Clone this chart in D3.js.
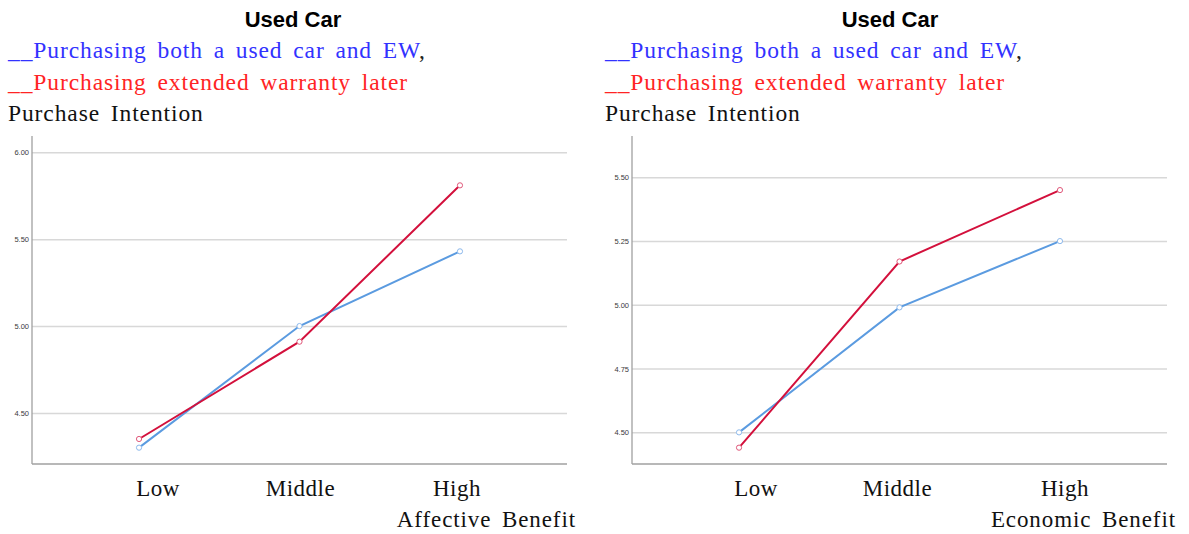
<!DOCTYPE html>
<html>
<head>
<meta charset="utf-8">
<script src="https://cdn.jsdelivr.net/npm/d3@7"></script>
<style>
  body { margin: 0; background: #fff; }
  .serif { font-family: "Liberation Serif", "DejaVu Serif", serif; }
</style>
</head>
<body>
<svg></svg>
<script>
const w = 1189
const h = 534

// data
const categories = ['Low', 'Middle', 'High']
const affectiveBoth = [4.30, 5.00, 5.43]
const affectiveLater = [4.35, 4.91, 5.81]
const economicBoth = [4.50, 4.99, 5.25]
const economicLater = [4.44, 5.17, 5.45]
const affectiveTicks = [4.50, 5.00, 5.50, 6.00]
const economicTicks = [4.50, 4.75, 5.00, 5.25, 5.50]

const title = 'Used Car'
const legendBoth = '__Purchasing both a used car and EW'
const legendLater = '__Purchasing extended warranty later'
const yTitle = 'Purchase Intention'

const svg = d3.select('svg')
  .attr('width', w)
  .attr('height', h)

const plotTop = 136
const plotBottom = 464
const plotWidth = 535
const blueLine = '#5b9be0'
const redLine = '#d3103c'

const panels = [
  {left: 0, axisX: 32, domain: [4.206, 6.094], ticks: affectiveTicks,
   both: affectiveBoth, later: affectiveLater, xTitle: 'Affective Benefit',
   nudge: [19, 1, -3]},
  {left: 597, axisX: 632, domain: [4.376, 5.662], ticks: economicTicks,
   both: economicBoth, later: economicLater, xTitle: 'Economic Benefit',
   nudge: [17, -2, 5]}
]

// serif text in the look of the original
const serifText = (sel, size) => sel
  .attr('class', 'serif')
  .attr('font-size', size)
  .attr('word-spacing', 4)
  .attr('letter-spacing', 0.9)

const drawPanel = p => {
  // header
  svg.append('text')
    .attr('x', p.left + 293)
    .attr('y', 26.5)
    .attr('text-anchor', 'middle')
    .attr('font-family', 'Liberation Sans, Arial, sans-serif')
    .attr('font-weight', 'bold')
    .attr('font-size', 22)
    .attr('fill', '#000')
    .text(title)

  const leg = svg.append('text')
    .attr('x', p.left + 8)
    .attr('y', 58)
    .call(serifText, 23.5)
  leg.append('tspan').attr('fill', '#3232ff').text(legendBoth)
  leg.append('tspan').attr('fill', '#222').text(',')

  svg.append('text')
    .attr('x', p.left + 8)
    .attr('y', 90)
    .call(serifText, 23.5)
    .attr('fill', '#ff2424')
    .text(legendLater)

  svg.append('text')
    .attr('x', p.left + 8)
    .attr('y', 120.5)
    .call(serifText, 23.5)
    .attr('fill', '#111')
    .text(yTitle)

  const g = svg.append('g')
    .attr('transform', `translate(${p.axisX}, 0)`)

  const xScale = d3.scalePoint()
    .domain(categories)
    .range([0, plotWidth])
    .padding(0.667)

  const yScale = d3.scaleLinear()
    .domain(p.domain)
    .range([plotBottom, plotTop])

  const yAxis = d3.axisLeft(yScale)
    .tickValues(p.ticks)
    .tickFormat(d3.format('.2f'))
    .tickSize(-plotWidth)

  const yAxisG = g.append('g').call(yAxis)
  yAxisG.select('.domain').remove()
  yAxisG.selectAll('line')
    .attr('stroke', '#d8d8d8')
    .attr('stroke-width', 1.5)
  yAxisG.selectAll('text')
    .attr('font-family', 'Liberation Sans, Arial, sans-serif')
    .attr('font-size', 7.5)
    .attr('fill', '#3a3a3a')

  // axis frame
  g.append('line')
    .attr('x1', 0).attr('x2', 0)
    .attr('y1', plotTop).attr('y2', plotBottom)
    .attr('stroke', '#a0a0a0')
    .attr('stroke-width', 1.3)
  g.append('line')
    .attr('x1', 0).attr('x2', plotWidth)
    .attr('y1', plotBottom).attr('y2', plotBottom)
    .attr('stroke', '#a0a0a0')
    .attr('stroke-width', 1.3)

  // category labels
  g.selectAll('.cat').data(categories)
    .enter().append('text')
    .attr('class', 'cat serif')
    .attr('x', (d, i) => xScale(d) + p.nudge[i])
    .attr('y', 496)
    .attr('text-anchor', 'middle')
    .attr('font-size', 23)
    .attr('letter-spacing', 0.5)
    .attr('fill', '#111')
    .text(d => d)

  g.append('text')
    .attr('x', plotWidth + 9)
    .attr('y', 527)
    .attr('text-anchor', 'end')
    .call(serifText, 23)
    .attr('fill', '#111')
    .text(p.xTitle)

  const line = d3.line()
    .x((d, i) => xScale(categories[i]))
    .y(d => yScale(d))

  const series = [
    {values: p.both, color: blueLine, marker: '#8db9ec'},
    {values: p.later, color: redLine, marker: '#e0587a'}
  ]

  series.forEach(s => {
    g.append('path')
      .datum(s.values)
      .attr('d', line)
      .attr('fill', 'none')
      .attr('stroke', s.color)
      .attr('stroke-width', 2)

    g.selectAll(null).data(s.values)
      .enter().append('circle')
      .attr('cx', (d, i) => xScale(categories[i]))
      .attr('cy', d => yScale(d))
      .attr('r', 2.6)
      .attr('fill', '#fff')
      .attr('stroke', s.marker)
      .attr('stroke-width', 1)
  })
}

panels.forEach(drawPanel)
</script>
</body>
</html>
